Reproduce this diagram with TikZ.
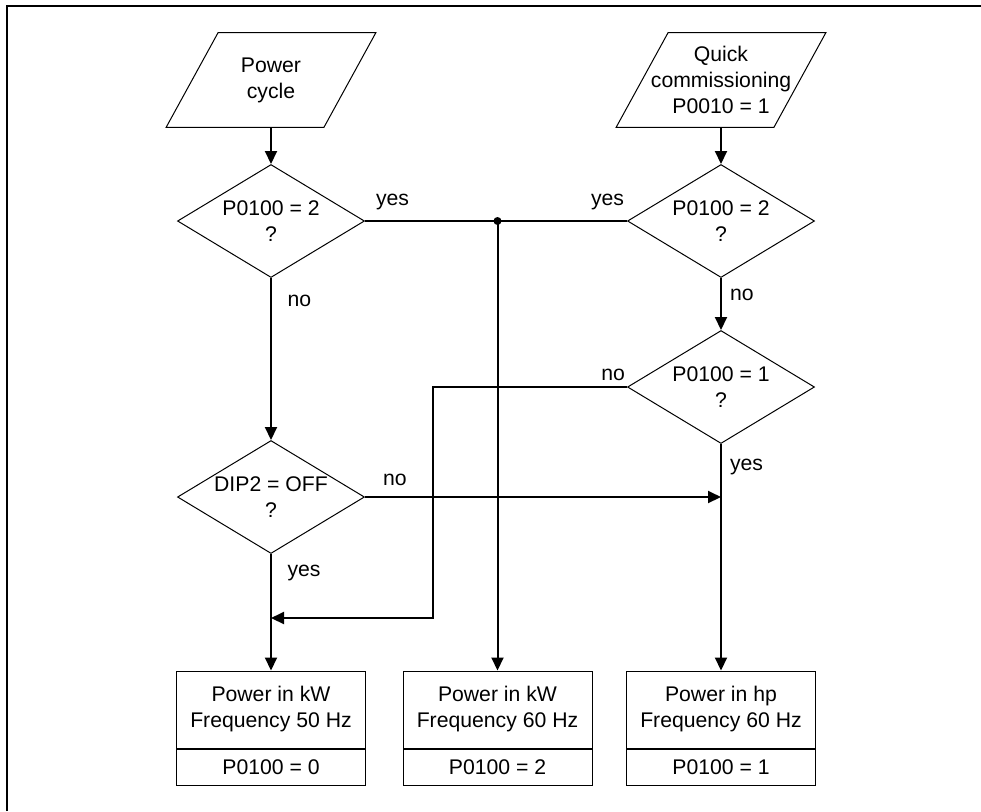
\documentclass[tikz,border=0pt]{standalone}
\usepackage{fontspec}
\setmainfont{Liberation Sans}
\usetikzlibrary{shapes.geometric,arrows.meta,positioning}

\begin{document}
\begin{tikzpicture}[x=.5pt,y=-.5pt,
    every node/.style={font=\fontsize{10.6}{13}\selectfont, align=center},
    inbox/.style={minimum width=78.5pt, minimum height=47pt, inner sep=0pt},
    test/.style={diamond, draw, line width=.5pt, aspect=1.65, inner sep=0pt,
      minimum width=93.5pt, minimum height=56.5pt},
    res/.style={draw, line width=.5pt, minimum width=94.5pt, minimum height=38.5pt, inner sep=0pt},
    resval/.style={res, minimum height=18pt},
    flow/.style={line width=1pt},
    arr/.style={flow, -{Triangle[length=6.5pt,width=6pt]}},
    lbl/.style={inner sep=0pt}]
    \useasboundingbox (0,0) rectangle (981,811);
    \draw[line width=1pt] (7,811) -- (7,6) -- (981,6);

    % inputs
    \node[inbox] (pc) at (271,80) {Power\\cycle};
    \node[inbox] (qc) at (721,80) {Quick\\commissioning\\P0010 = 1};
    \foreach \n in {pc,qc}
      \draw[line width=.5pt] ([xshift=-13pt]\n.south west) -- ([xshift=-13pt]\n.south east)
        -- ([xshift=13pt]\n.north east) -- ([xshift=13pt]\n.north west) -- cycle;

    % tests
    \node[test] (d1) at (271,221) {P0100 = 2\\?};
    \node[test] (d2) at (721,221) {P0100 = 2\\?};
    \node[test] (d3) at (721,387) {P0100 = 1\\?};
    \node[test] (d4) at (271,497) {DIP2 = OFF\\?};

    % results
    \node[res] (r1) at (271,709.5) {Power in kW\\Frequency 50 Hz};
    \node[resval, below=0pt of r1] (v1) {P0100 = 0};
    \node[res] (r2) at (497.5,709.5) {Power in kW\\Frequency 60 Hz};
    \node[resval, below=0pt of r2] (v2) {P0100 = 2};
    \node[res] (r3) at (721,709.5) {Power in hp\\Frequency 60 Hz};
    \node[resval, below=0pt of r3] (v3) {P0100 = 1};

    \draw[arr] (pc) -- (d1);
    \draw[arr] (qc) -- (d2);
    \draw[arr] (d1) -- node[lbl, right=7.75pt, pos=.14] {no} (d4);
    \draw[arr] (d2) -- node[lbl, right=4pt, pos=.32] {no} (d3);
    \draw[arr] (d3) -- node[lbl, right=4pt, pos=.1] {yes} (r3);
    \draw[arr] (d4) -- node[lbl, right=7.75pt, pos=.165] {yes} (r1);

    \coordinate (fork) at (d1.east -| r2.north);
    \draw[flow] (d1.east) -- node[lbl, above right={5pt and 5pt}, pos=0] {yes}
      node[lbl, above left={5pt and 1pt}, pos=1] {yes} (d2.west);
    \fill (fork) circle (2pt);
    \draw[arr] (fork) -- (r2);

    \coordinate (hit) at (d4.east -| d3.south);
    \draw[arr] (d4.east) -- node[lbl, above right={5pt and 8.5pt}, pos=0] {no} (hit);

    \coordinate (turn) at (433,618);
    \coordinate (back) at (d4.south |- turn);
    \draw[arr] (d3.west) -| node[lbl, above left={2.5pt and .5pt}, pos=0] {no} (turn) -- (back);
\end{tikzpicture}
\end{document}
